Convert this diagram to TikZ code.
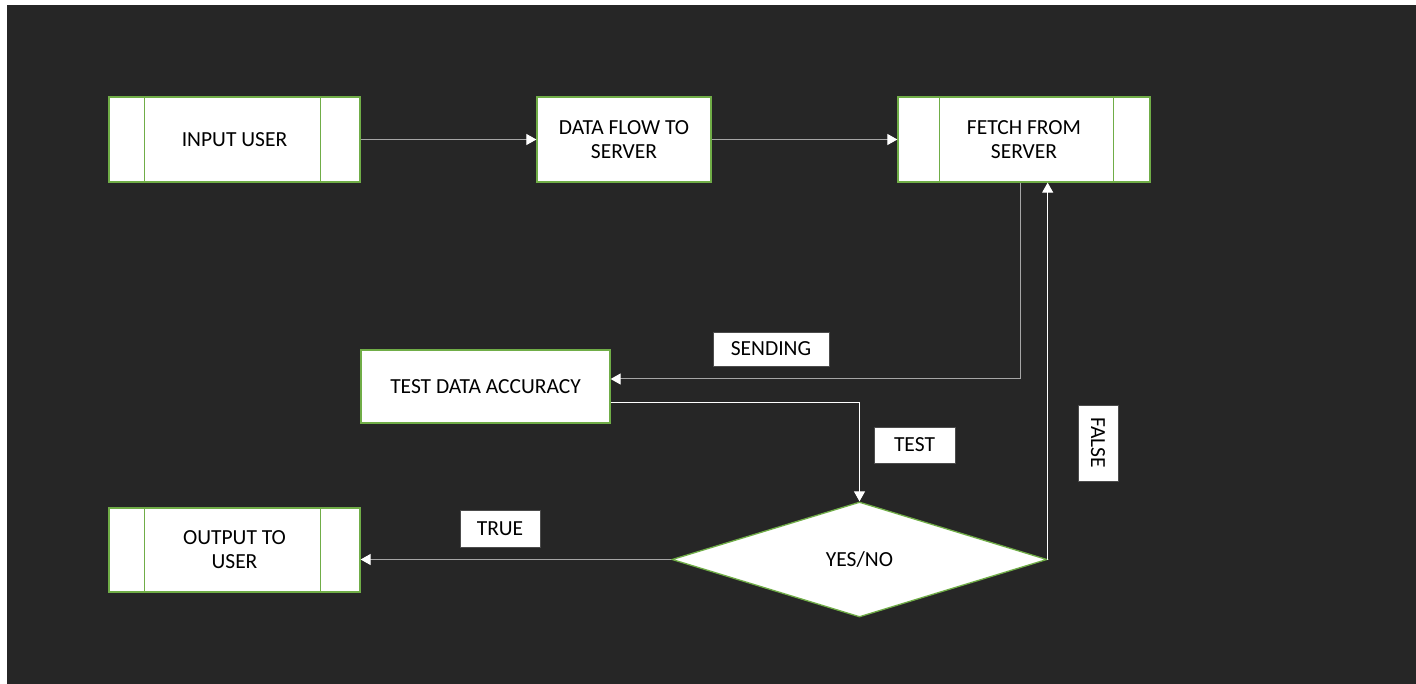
\documentclass[tikz,border=0pt]{standalone}
\usepackage{fontspec}
\setmainfont{Carlito}
\usetikzlibrary{shapes.geometric,arrows.meta,calc}
\definecolor{bg}{HTML}{262626}
\definecolor{boxgreen}{HTML}{70AD47}
\definecolor{linegray}{HTML}{A6A6A6}
\begin{document}
\begin{tikzpicture}[x=1pt,y=-1pt,
  every node/.style={font=\fontsize{21.5}{24}\selectfont, text=black, align=center},
  procbox/.style={draw=boxgreen, line width=1.3pt, fill=white, rectangle, inner sep=0pt},
  decbox/.style={draw=boxgreen, line width=1.3pt, fill=white, diamond, inner sep=0pt, minimum width=375pt, minimum height=115pt},
  lbl/.style={fill=white, draw=black!70, line width=0.4pt, rectangle, inner sep=0pt},
  conn/.style={draw=linegray, line width=1pt, -{Triangle[width=11pt,length=10pt,fill=white,color=white]}},
  connw/.style={draw=white, line width=1pt, -{Triangle[width=11pt,length=10pt,fill=white,color=white]}},
]
\useasboundingbox (0,0) rectangle (1416,684);
\fill[white] (0,0) rectangle (1416,684);
\fill[bg] (7,5) rectangle (1416,684);

% process nodes
\node[procbox, minimum width=251pt, minimum height=85pt] (in) at (234.5,139.5) {INPUT USER};
\node[procbox, minimum width=174pt, minimum height=85pt] (df) at (624,139.5) {DATA FLOW TO\\SERVER};
\node[procbox, minimum width=252pt, minimum height=85pt] (fe) at (1024,139.5) {FETCH FROM\\SERVER};
\node[procbox, minimum width=249pt, minimum height=73pt] (test) at (485.5,386.5) {TEST DATA ACCURACY};
\node[procbox, minimum width=251pt, minimum height=84pt] (out) at (234.5,550) {OUTPUT TO\\USER};
\node[decbox] (dia) at (859.5,559.5) {YES/NO};

% inner bars of predefined-process boxes
\draw[boxgreen, line width=1.3pt] ($(in.north west)+(36,0)$) -- ($(in.south west)+(36,0)$);
\draw[boxgreen, line width=1.3pt] ($(in.north east)+(-40,0)$) -- ($(in.south east)+(-40,0)$);
\draw[boxgreen, line width=1.3pt] ($(fe.north west)+(42,0)$) -- ($(fe.south west)+(42,0)$);
\draw[boxgreen, line width=1.3pt] ($(fe.north east)+(-37,0)$) -- ($(fe.south east)+(-37,0)$);
\draw[boxgreen, line width=1.3pt] ($(out.north west)+(36,0)$) -- ($(out.south west)+(36,0)$);
\draw[boxgreen, line width=1.3pt] ($(out.north east)+(-40,0)$) -- ($(out.south east)+(-40,0)$);

% helper coordinates
\coordinate (s1) at (1020,379);
\coordinate (t1) at (861,402);

% connectors
\draw[conn] (in.east) -- (df.west);
\draw[conn] (df.east) -- (fe.west);
\draw[conn] (fe.south -| s1) |- (test.east |- s1);
\draw[connw] (test.east |- t1) -| (dia.north);
\draw[connw] (dia.east) -- (dia.east |- fe.south);
\draw[conn] (dia.west) -- (out.east |- dia.west);

% labels
\node[lbl, minimum width=116pt, minimum height=34pt] (lsend) at (771,349) {SENDING};
\node[lbl, minimum width=81pt, minimum height=36pt] (ltest) at (914.5,445) {TEST};
\node[lbl, minimum width=40pt, minimum height=76pt] (lfalse) at (1098,443) {};
\node[rotate=-90, inner sep=0pt] (lfalsetext) at (lfalse.center) {FALSE};
\node[lbl, minimum width=80pt, minimum height=37pt] (ltrue) at (500,528.5) {TRUE};
\end{tikzpicture}
\end{document}
